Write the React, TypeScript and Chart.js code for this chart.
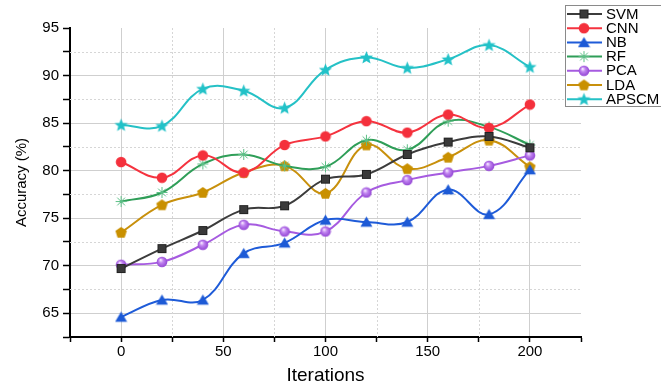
import { useEffect, useRef } from 'react';
import { Chart, registerables } from 'chart.js';

Chart.register(...registerables);

// ---- data ----
const iterations = [0, 20, 40, 60, 80, 100, 120, 140, 160, 180, 200];
const svm = [69.7, 71.8, 73.7, 75.9, 76.3, 79.1, 79.6, 81.7, 83.0, 83.6, 82.4];
const cnn = [80.9, 79.25, 81.6, 79.8, 82.7, 83.6, 85.2, 84.0, 85.9, 84.5, 86.95];
const nb = [64.6, 66.4, 66.4, 71.3, 72.4, 74.8, 74.6, 74.6, 78.0, 75.4, 80.1];
const rf = [76.75, 77.7, 80.7, 81.7, 80.5, 80.4, 83.2, 82.2, 85.2, 84.6, 82.7];
const pca = [70.1, 70.4, 72.2, 74.3, 73.6, 73.6, 77.7, 79.0, 79.8, 80.5, 81.6];
const lda = [73.5, 76.4, 77.7, 79.8, 80.5, 77.6, 82.7, 80.2, 81.4, 83.2, 80.4];
const apscm = [84.8, 84.7, 88.6, 88.4, 86.6, 90.6, 91.9, 90.8, 91.7, 93.2, 90.9];
const seriesNames = ['SVM', 'CNN', 'NB', 'RF', 'PCA', 'LDA', 'APSCM'];
const xTickLabels = [0, 50, 100, 150, 200];
const yTickLabels = [65, 70, 75, 80, 85, 90, 95];

const FONT = '"Liberation Sans", Arial, Helvetica, sans-serif';

function mk(size: number, draw: (c: CanvasRenderingContext2D, s: number) => void) {
  const cv = document.createElement('canvas');
  cv.width = size;
  cv.height = size;
  const c = cv.getContext('2d')!;
  draw(c, size);
  return cv;
}

function makeMarkers() {
  const square = mk(11, (c) => {
    c.fillStyle = '#3a3a3a';
    c.fillRect(1, 1, 9, 9);
    c.strokeStyle = '#222';
    c.lineWidth = 1;
    c.strokeRect(1.5, 1.5, 8, 8);
  });
  const circle = mk(12, (c) => {
    c.fillStyle = '#f4303c';
    c.beginPath();
    c.arc(6, 6, 5.3, 0, Math.PI * 2);
    c.fill();
  });
  const tri = mk(13, (c) => {
    c.fillStyle = '#1d5ad6';
    c.beginPath();
    c.moveTo(6.5, 1);
    c.lineTo(12.5, 11.2);
    c.lineTo(0.5, 11.2);
    c.closePath();
    c.fill();
  });
  const aster = mk(13, (c) => {
    c.strokeStyle = '#5cbf86';
    c.lineWidth = 1;
    c.beginPath();
    for (let k = 0; k < 4; k++) {
      const a = (k * Math.PI) / 4;
      c.moveTo(6.5 - 5.5 * Math.cos(a), 6.5 - 5.5 * Math.sin(a));
      c.lineTo(6.5 + 5.5 * Math.cos(a), 6.5 + 5.5 * Math.sin(a));
    }
    c.stroke();
  });
  const sphere = mk(12, (c) => {
    const g = c.createRadialGradient(4.6, 4.0, 0.5, 6, 6, 5.6);
    g.addColorStop(0, '#f3e2ff');
    g.addColorStop(0.35, '#c185f0');
    g.addColorStop(1, '#8f40d2');
    c.fillStyle = g;
    c.beginPath();
    c.arc(6, 6, 5.3, 0, Math.PI * 2);
    c.fill();
  });
  const penta = mk(13, (c) => {
    c.fillStyle = '#c99000';
    c.beginPath();
    for (let k = 0; k < 5; k++) {
      const a = -Math.PI / 2 + (k * 2 * Math.PI) / 5;
      const px = 6.5 + 6 * Math.cos(a);
      const py = 6.9 + 6 * Math.sin(a);
      if (k === 0) c.moveTo(px, py);
      else c.lineTo(px, py);
    }
    c.closePath();
    c.fill();
  });
  const star = mk(15, (c) => {
    c.fillStyle = '#22c2c8';
    c.beginPath();
    for (let k = 0; k < 10; k++) {
      const a = -Math.PI / 2 + (k * Math.PI) / 5;
      const r = k % 2 === 0 ? 7 : 3;
      const px = 7.5 + r * Math.cos(a);
      const py = 7.9 + r * Math.sin(a);
      if (k === 0) c.moveTo(px, py);
      else c.lineTo(px, py);
    }
    c.closePath();
    c.fill();
  });
  return [square, circle, tri, aster, sphere, penta, star];
}

const lineColors = ['#3c3c3c', '#f5333f', '#1e5bd8', '#2f9e58', '#a65be0', '#c8900c', '#25c1c6'];

const minorGridPlugin = {
  id: 'minorGrid',
  beforeDatasetsDraw(chart: any) {
    const { ctx, chartArea } = chart;
    const xs = chart.scales.x;
    const ys = chart.scales.y;
    ctx.save();
    ctx.strokeStyle = '#d6d6d6';
    ctx.lineWidth = 1;
    ctx.setLineDash([2, 2]);
    xs.ticks.forEach((t: any) => {
      if (t.value % 50 !== 0 && t.value > xs.min && t.value < xs.max) {
        const px = Math.round(xs.getPixelForValue(t.value)) + 0.5;
        ctx.beginPath();
        ctx.moveTo(px, chartArea.top);
        ctx.lineTo(px, chartArea.bottom);
        ctx.stroke();
      }
    });
    ys.ticks.forEach((t: any) => {
      if (t.value % 5 !== 0 && t.value > ys.min && t.value < ys.max) {
        const py = Math.round(ys.getPixelForValue(t.value)) + 0.5;
        ctx.beginPath();
        ctx.moveTo(chartArea.left, py);
        ctx.lineTo(chartArea.right, py);
        ctx.stroke();
      }
    });
    ctx.restore();
  },
};

const legendPlugin = {
  id: 'boxLegend',
  afterDraw(chart: any) {
    const { ctx } = chart;
    const ds = chart.data.datasets;
    ctx.save();
    ctx.setLineDash([]);
    ctx.fillStyle = '#ffffff';
    ctx.fillRect(565.5, 5.5, 100, 101);
    ctx.strokeStyle = '#8a8a8a';
    ctx.lineWidth = 1;
    ctx.strokeRect(565.5, 5.5, 100, 101);
    ds.forEach((d: any, i: number) => {
      const y = 14 + i * 14.2;
      ctx.strokeStyle = d.borderColor;
      ctx.lineWidth = 2;
      ctx.beginPath();
      ctx.moveTo(567, y);
      ctx.lineTo(602, y);
      ctx.stroke();
      const img = d.pointStyle as HTMLCanvasElement;
      ctx.drawImage(img, 584 - img.width / 2, y - img.height / 2);
      ctx.fillStyle = '#000';
      ctx.font = `15px ${FONT}`;
      ctx.textBaseline = 'middle';
      ctx.textAlign = 'left';
      ctx.fillText(d.label, 606, y + 0.5);
    });
    ctx.restore();
  },
};

export default function App() {
  const ref = useRef<HTMLCanvasElement>(null);
  useEffect(() => {
    const markers = makeMarkers();
    const series = [svm, cnn, nb, rf, pca, lda, apscm];
    const datasets = series.map((vals, i) => ({
      label: seriesNames[i],
      data: iterations.map((x, j) => ({ x, y: vals[j] })),
      borderColor: lineColors[i],
      backgroundColor: lineColors[i],
      borderWidth: 2,
      tension: 0.4,
      pointStyle: markers[i],
      pointRadius: 5,
      fill: false,
    }));
    Chart.defaults.font.family = FONT;
    const chart = new Chart(ref.current!, {
      type: 'line',
      data: { datasets },
      plugins: [minorGridPlugin, legendPlugin],
      options: {
        animation: false,
        responsive: false,
        devicePixelRatio: 1,
        layout: { padding: { left: 0, right: 80, top: 28, bottom: 0 } },
        plugins: { legend: { display: false }, tooltip: { enabled: false } },
        scales: {
          x: {
            type: 'linear',
            min: -25,
            max: 225,
            afterFit: (s: any) => {
              s.height = 48;
            },
            ticks: {
              stepSize: 25,
              autoSkip: false,
              maxRotation: 0,
              padding: 1,
              color: '#000',
              font: { size: 15 },
              callback: (v: any) => (xTickLabels.includes(Number(v)) ? String(v) : ''),
            },
            grid: {
              color: (c: any) =>
                c.tick && xTickLabels.includes(c.tick.value) ? '#cfcfcf' : 'rgba(0,0,0,0)',
              lineWidth: 1,
              tickLength: 5,
              tickColor: '#000',
              tickWidth: 1.5,
            },
            border: { color: '#000', width: 2 },
            title: {
              display: true,
              text: 'Iterations',
              color: '#000',
              font: { size: 19, lineHeight: 1 },
              padding: { top: 0, bottom: 0 },
            },
          },
          y: {
            type: 'linear',
            min: 62.5,
            max: 95,
            afterFit: (s: any) => {
              s.width = 70;
            },
            ticks: {
              stepSize: 2.5,
              autoSkip: false,
              padding: 4,
              color: '#000',
              font: { size: 15 },
              callback: (v: any) => (yTickLabels.includes(Number(v)) ? String(v) : ''),
            },
            grid: {
              color: (c: any) =>
                c.tick && yTickLabels.includes(c.tick.value) && c.tick.value < 95
                  ? '#cfcfcf'
                  : 'rgba(0,0,0,0)',
              lineWidth: 1,
              tickLength: 7,
              tickColor: '#000',
              tickWidth: 1.5,
            },
            border: { color: '#000', width: 2 },
            title: {
              display: true,
              text: 'Accuracy (%)',
              color: '#000',
              font: { size: 15, lineHeight: 1.2 },
              padding: { top: 13, bottom: 0 },
            },
          },
        },
      },
    } as any);
    return () => chart.destroy();
  }, []);
  return (
    <div style={{ position: 'absolute', left: 0, top: 0, width: 661, height: 385, background: '#fff' }}>
      <canvas ref={ref} width={661} height={385} style={{ display: 'block' }} />
    </div>
  );
}
